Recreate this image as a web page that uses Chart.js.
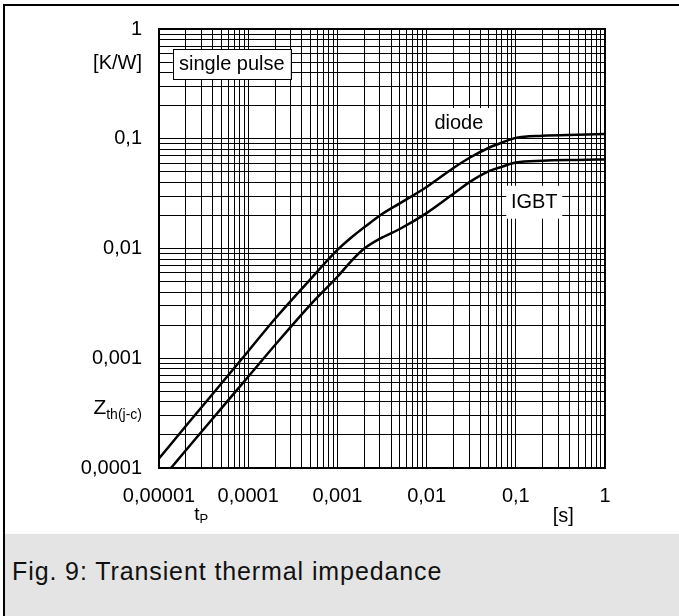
<!DOCTYPE html>
<html>
<head>
<meta charset="utf-8">
<title>Transient thermal impedance</title>
<script src="https://cdn.jsdelivr.net/npm/chart.js@4.4.1/dist/chart.umd.min.js"></script>
<style>
  body { margin: 0; width: 679px; height: 616px; background: #fff; overflow: hidden; position: relative;
         font-family: "Liberation Sans", Arial, Helvetica, sans-serif; }
  #frameTop { position: absolute; left: 3px; top: 4px; width: 676px; height: 2px; background: #000; }
  #frameLeft { position: absolute; left: 3px; top: 4px; width: 2px; height: 612px; background: #000; }
  #chartBox { position: absolute; left: 0; top: 0; width: 679px; height: 534px; }
  #caption { position: absolute; left: 5px; top: 534px; width: 674px; height: 82px; background: #e4e4e4;
             font-size: 25px; line-height: 25px; letter-spacing: 0.9px; color: #111; }
  #caption span { position: absolute; top: 25px; left: 7px; white-space: nowrap; }
</style>
</head>
<body>
<div id="chartBox"><canvas id="myChart"></canvas></div>
<div id="caption"><span>Fig. 9: Transient thermal impedance</span></div>
<div id="frameTop"></div>
<div id="frameLeft"></div>
<script>
// pulse duration t_P [s]
const tValues = [1e-5, 2e-5, 5e-5, 1e-4, 2e-4, 5e-4, 1e-3, 1.5e-3, 2e-3, 3e-3, 5e-3, 0.01, 0.02, 0.03, 0.05, 0.07, 0.1, 0.2, 0.5, 1];
// Zth(j-c) [K/W], single pulse
const diodeZ = [1.22e-4, 2.41e-4, 5.89e-4, 1.16e-3, 2.29e-3, 5.26e-3, 9.7e-3, 0.0130, 0.0156, 0.0200, 0.0258, 0.0364, 0.0542, 0.0668, 0.0828, 0.0921, 0.1019, 0.1065, 0.1088, 0.1103];
const igbtZ  = [7.4e-5, 1.45e-4, 3.49e-4, 6.79e-4, 1.32e-3, 3.08e-3, 5.53e-3, 8.0e-3, 0.0100, 0.0123, 0.01506, 0.021, 0.0315, 0.040, 0.0506, 0.0556, 0.0607, 0.0631, 0.0641, 0.0648];

const xDecades = [1e-5, 1e-4, 1e-3, 1e-2, 1e-1, 1];
const xTickLabels = ['0,00001', '0,0001', '0,001', '0,01', '0,1', '1'];
const yDecades = [1e-4, 1e-3, 1e-2, 1e-1, 1];
const yTickLabels = ['0,0001', '0,001', '0,01', '0,1', '1'];

const FONT = '"Liberation Sans", Arial, Helvetica, sans-serif';

// 1..9 x 10^n grid lines
function gridValues(decades) {
  const out = [];
  for (let i = 0; i < decades.length; i++) {
    if (i === decades.length - 1) { out.push(decades[i]); break; }
    for (let k = 1; k <= 9; k++) out.push(+(k * decades[i]).toPrecision(3));
  }
  return out;
}

function labelFor(decades, labels, value) {
  const i = decades.findIndex(d => Math.abs(d - value) / d < 1e-6);
  return i >= 0 ? labels[i] : '';
}

// boxed texts, anchored in data coordinates
const boxLabels = [
  { text: 'single pulse', t: 6.55e-5, z: 0.479, w: 118, h: 30, border: true },
  { text: 'diode', t: 0.023, z: 0.139, w: 63, h: 30, border: false },
  { text: 'IGBT', t: 0.161, z: 0.0264, w: 56, h: 33, border: false }
];

const extras = {
  id: 'extras',
  afterDatasetsDraw(chart) {
    const { ctx, chartArea: a, scales: { x, y } } = chart;
    ctx.save();
    ctx.strokeStyle = '#000';
    ctx.lineWidth = 2;
    ctx.strokeRect(a.left, a.top, a.right - a.left, a.bottom - a.top);

    ctx.font = '20px ' + FONT;
    ctx.textAlign = 'center';
    ctx.textBaseline = 'middle';
    boxLabels.forEach(b => {
      const cx = x.getPixelForValue(b.t);
      const cy = y.getPixelForValue(b.z);
      ctx.fillStyle = '#fff';
      ctx.fillRect(cx - b.w / 2, cy - b.h / 2, b.w, b.h);
      if (b.border) {
        ctx.lineWidth = 1;
        ctx.strokeRect(Math.round(cx - b.w / 2) + 0.5, Math.round(cy - b.h / 2) + 0.5, b.w, b.h);
      }
      ctx.fillStyle = '#000';
      ctx.fillText(b.text, cx, cy);
    });

    // axis captions
    const rightX = a.left - 17;
    ctx.textAlign = 'right';
    ctx.textBaseline = 'middle';
    ctx.fillText('[K/W]', rightX, y.getPixelForValue(0.48));

    ctx.textBaseline = 'alphabetic';
    const zy = y.getPixelForValue(3.6e-4) + 7;
    ctx.font = '14px ' + FONT;
    ctx.fillText('th(j-c)', rightX, zy + 5);
    const subW = ctx.measureText('th(j-c)').width;
    ctx.font = '21px ' + FONT;
    ctx.fillText('Z', rightX - subW, zy);

    ctx.textAlign = 'left';
    const tx = x.getPixelForValue(3.05e-5) - 8;
    ctx.font = '19px ' + FONT;
    ctx.fillText('t', tx, 520);
    const tw = ctx.measureText('t').width;
    ctx.font = '13px ' + FONT;
    ctx.fillText('P', tx + tw, 523);

    ctx.textAlign = 'center';
    ctx.font = '20px ' + FONT;
    ctx.fillText('[s]', x.getPixelForValue(0.34), 522);
    ctx.restore();
  }
};

new Chart('myChart', {
  type: 'line',
  data: {
    datasets: [
      {
        label: 'diode',
        data: tValues.map((t, i) => ({ x: t, y: diodeZ[i] })),
        borderColor: '#000',
        borderWidth: 2.5,
        pointRadius: 0,
        fill: false,
        cubicInterpolationMode: 'monotone'
      },
      {
        label: 'IGBT',
        data: tValues.map((t, i) => ({ x: t, y: igbtZ[i] })),
        borderColor: '#000',
        borderWidth: 2.5,
        pointRadius: 0,
        fill: false,
        cubicInterpolationMode: 'monotone'
      }
    ]
  },
  options: {
    responsive: true,
    maintainAspectRatio: false,
    animation: false,
    layout: { padding: { top: 23, right: 74, left: 0, bottom: 0 } },
    plugins: { legend: { display: false }, tooltip: { enabled: false } },
    scales: {
      x: {
        type: 'logarithmic',
        min: 1e-5,
        max: 1,
        afterBuildTicks: (scale) => { scale.ticks = gridValues(xDecades).map(v => ({ value: v })); },
        afterFit: (scale) => { scale.height = 66; },
        grid: { color: '#000', lineWidth: 1, drawTicks: false },
        border: { color: '#000', width: 2 },
        ticks: {
          autoSkip: false,
          maxRotation: 0,
          padding: 16,
          color: '#000',
          font: { family: FONT, size: 20 },
          callback: (value) => labelFor(xDecades, xTickLabels, value)
        }
      },
      y: {
        type: 'logarithmic',
        min: 1e-4,
        max: 1,
        afterBuildTicks: (scale) => { scale.ticks = gridValues(yDecades).map(v => ({ value: v })); },
        afterFit: (scale) => { scale.width = 159; },
        grid: { color: '#000', lineWidth: 1, drawTicks: false },
        border: { color: '#000', width: 2 },
        ticks: {
          autoSkip: false,
          padding: 17,
          color: '#000',
          font: { family: FONT, size: 20 },
          callback: (value) => labelFor(yDecades, yTickLabels, value)
        }
      }
    }
  },
  plugins: [extras]
});
</script>
</body>
</html>
